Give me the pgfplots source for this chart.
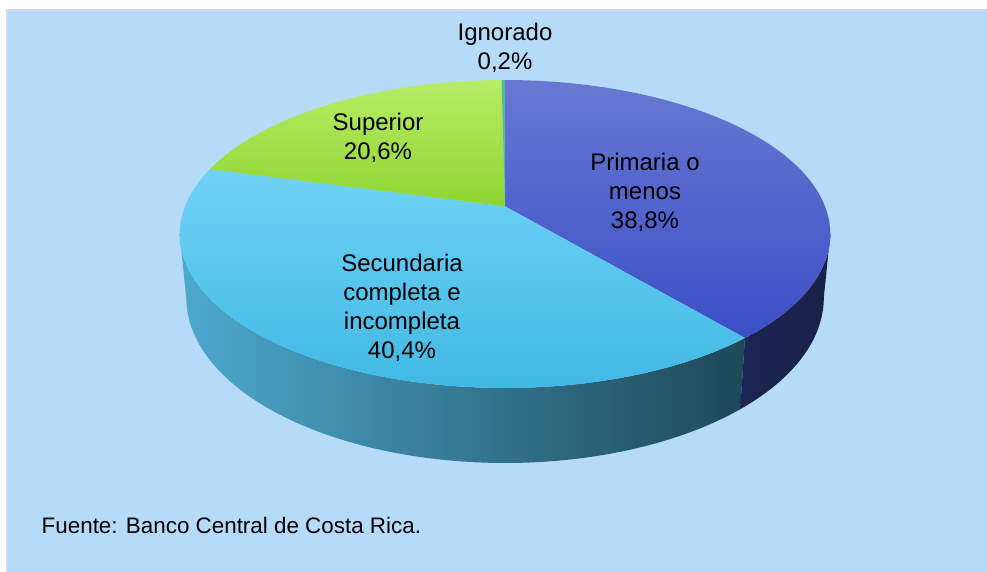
\documentclass[border=0pt]{standalone}
\usepackage{pgfplots}
\pgfplotsset{compat=1.18}
\usepackage{fontspec}
\setmainfont{Liberation Sans}
\definecolor{bg}{HTML}{B5DBF9}
\definecolor{frame}{HTML}{D4D4EC}
\definecolor{blueT}{HTML}{6878D2}
\definecolor{blueB}{HTML}{3A4FC6}
\definecolor{cyanT}{HTML}{70D2F6}
\definecolor{cyanB}{HTML}{40B9E4}
\definecolor{greenT}{HTML}{B8EC66}
\definecolor{greenB}{HTML}{8ED531}
\definecolor{ign}{HTML}{52B8A0}
\definecolor{sideL}{HTML}{4DA9CE}
\definecolor{sideR}{HTML}{1D4858}
\definecolor{navyL}{HTML}{1C2554}
\definecolor{navyR}{HTML}{1A2048}
% shares (percent)
\def\pPrim{38.8}
\def\pSec{40.4}
\def\pSup{20.6}
\def\pIgn{0.2}
\pgfmathsetmacro\aOne{90-3.6*\pPrim}
\pgfmathsetmacro\aTwo{\aOne-3.6*\pSec}
\pgfmathsetmacro\aThree{\aTwo-3.6*\pSup}
\begin{document}
\begin{tikzpicture}[
  declare function={
    pe(\t)=1+0.18*sin(\t);
    px(\t)=505+320*cos(\t)/pe(\t);
    py(\t)=206.3-149*sin(\t)/pe(\t);
    hb(\s)=1-(\s<1.0001);
    ang(\s,\a,\b)=(1-hb(\s))*(\a+(\b-\a)*\s)+hb(\s)*(\b-(\b-\a)*(\s-1-1/60)*60/59);
    sx(\s,\a,\b)=505+(1-0.02*hb(\s))*320*cos(ang(\s,\a,\b))/pe(ang(\s,\a,\b));
    sy(\s,\a,\b)=py(ang(\s,\a,\b))+hb(\s)*61.5/pe(ang(\s,\a,\b));
  }]
\begin{axis}[
  width=740.25pt, height=428.25pt, scale only axis,
  xmin=0, xmax=987, ymin=0, ymax=571, y dir=reverse,
  axis lines=none, ticks=none,
  axis background/.style={fill=white},
]
% background
\addplot[fill=white, draw=none] coordinates {(0,0) (987,0) (987,571) (0,571)} -- cycle;
\addplot[fill=bg, draw=frame, line width=1.2pt] coordinates {(7,10) (990,10) (990,575) (7,575)} -- cycle;
% sides
\addplot[draw=none, left color=sideL, right color=sideR, domain=0:2, samples=121]
  ({sx(x,-169.6,\aOne)},{sy(x,-169.6,\aOne)}) -- cycle;
\addplot[draw=none, left color=navyL, right color=navyR, domain=0:2, samples=121]
  ({sx(x,\aOne,-10.4)},{sy(x,\aOne,-10.4)}) -- cycle;
% top faces
\addplot[draw=none, top color=blueT, bottom color=blueB, domain=\aOne:90, samples=80]
  ({px(x)},{py(x)}) -- (axis cs:505,206.3) -- cycle;
\addplot[draw=none, top color=cyanT, bottom color=cyanB, domain=\aTwo:\aOne, samples=80]
  ({px(x)},{py(x)}) -- (axis cs:505,206.3) -- cycle;
\addplot[draw=none, top color=greenT, bottom color=greenB, domain=\aThree:\aTwo, samples=60]
  ({px(x)},{py(x)}) -- (axis cs:505,206.3) -- cycle;
\addplot[draw=none, fill=ign, domain=-270:\aThree, samples=5]
  ({px(x)},{py(x)}) -- (axis cs:505,206.3) -- cycle;
% labels
\node[align=center, font=\fontsize{18}{21.75}\selectfont] at (axis cs:505,48) {Ignorado\\0,2\%};
\node[align=center, font=\fontsize{18}{21.75}\selectfont] at (axis cs:378,138) {Superior\\20,6\%};
\node[align=center, font=\fontsize{18}{21.75}\selectfont] at (axis cs:645,192) {Primaria o\\menos\\38,8\%};
\node[align=center, font=\fontsize{18}{21.75}\selectfont] at (axis cs:402,308) {Secundaria\\completa e\\incompleta\\40,4\%};
\node[anchor=west, font=\fontsize{16.8}{20}\selectfont] at (axis cs:37,525) {Fuente: Banco Central de Costa Rica.};
\end{axis}
\end{tikzpicture}
\end{document}
